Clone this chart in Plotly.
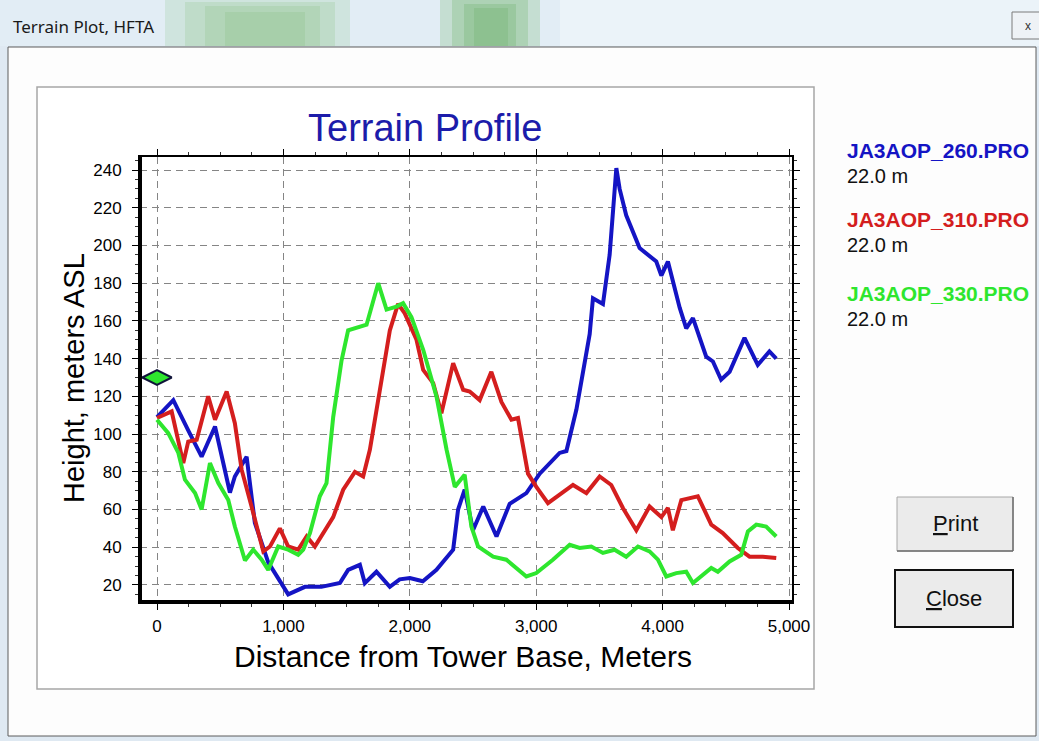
import plotly.graph_objects as go

# ---------------- data ----------------
dist_260 = [0, 129, 247, 353, 459, 577, 616, 709, 774, 880, 1038, 1170, 1300, 1380, 1447, 1512,
            1605, 1644, 1736, 1842, 1920, 2001, 2103, 2211, 2343, 2382, 2434, 2500, 2581, 2686,
            2790, 2922, 3028, 3185, 3239, 3318, 3423, 3449, 3528, 3581, 3634, 3660, 3712, 3818,
            3950, 3990, 4042, 4135, 4187, 4240, 4345, 4398, 4463, 4530, 4648, 4753, 4845, 4899]
height_260 = [109, 118, 102, 88, 104, 69, 77.5, 88, 53, 32, 15, 19, 19, 20, 21, 28,
              30.7, 21, 27, 19, 23, 23.7, 22, 28, 38.7, 60, 70.5, 49, 61.6, 45.7,
              63, 68.7, 79, 90, 91, 113, 153, 172, 169, 195, 241, 230, 216, 198.6,
              191.5, 184, 191.5, 167, 156, 161.5, 141, 138.5, 128.8, 133, 151, 136.7, 143.8, 140]

dist_310 = [0, 116, 208, 247, 314, 405, 459, 551, 616, 670, 748, 841, 894, 972, 1038, 1117,
            1184, 1249, 1394, 1473, 1566, 1631, 1684, 1763, 1842, 1907, 1960, 2053, 2106, 2185,
            2250, 2343, 2422, 2474, 2553, 2645, 2725, 2804, 2856, 2935, 3001, 3093, 3185, 3291,
            3397, 3502, 3594, 3686, 3792, 3897, 3990, 4042, 4081, 4148, 4279, 4385, 4476, 4595,
            4688, 4793, 4899]
height_310 = [108.5, 112, 84.6, 96, 97, 120, 107.6, 122.6, 105.8, 81, 61.6, 37.8, 40.4, 50, 40.4, 38.7,
              45.7, 40.4, 56, 70.5, 80, 77.5, 91.7, 125, 155, 169, 164, 150, 134, 127,
              111, 137.6, 123.5, 122.6, 118, 133, 117, 107.6, 108.5, 79, 72, 63.4, 67.8, 73,
              68.7, 77.5, 73, 60.8, 49, 61.6, 56, 60.8, 49, 65, 67, 52, 47.5, 39.6,
              35, 35, 34.3]

dist_330 = [0, 89, 169, 221, 301, 353, 419, 485, 564, 616, 696, 761, 828, 880, 959, 1038,
            1117, 1157, 1210, 1288, 1341, 1394, 1460, 1512, 1658, 1750, 1816, 1894, 1947, 2013,
            2106, 2211, 2291, 2356, 2434, 2487, 2540, 2659, 2764, 2922, 3001, 3132, 3265, 3344,
            3436, 3502, 3528, 3620, 3712, 3805, 3897, 3963, 4029, 4108, 4187, 4240, 4292, 4385,
            4437, 4530, 4622, 4675, 4741, 4819, 4899]
height_330 = [107.6, 100.5, 90, 75.8, 68.7, 60, 84.6, 74, 65, 51, 33, 38.7, 33.4, 28, 40.4, 38.7,
              36, 38.7, 47.5, 67, 74, 109, 139, 155, 158, 180, 166, 167.6, 169.4, 162,
              144.7, 120, 91.7, 72, 78.4, 51, 40.4, 35, 33.4, 24.5, 26.3, 33.4, 41.3, 39.6,
              40.4, 37.8, 37, 38.7, 35, 40.4, 37.8, 33.4, 24.5, 26.3, 27, 21, 23.7, 29,
              27, 32.5, 36, 48.4, 52, 51, 45.7]

series_names = ["JA3AOP_260.PRO", "JA3AOP_310.PRO", "JA3AOP_330.PRO"]
antenna_heights = [22.0, 22.0, 22.0]
series_colors = ["#1414c4", "#d41e1e", "#2ee62e"]

tower_dist = [0]
tower_height = [130]

chart_title = "Terrain Profile"
x_title = "Distance from Tower Base, Meters"
y_title = "Height, meters ASL"
window_title = "Terrain Plot, HFTA"

# ---------------- pixel helpers ----------------
W, H = 1039, 741
PL, PR, PT, PB = 140, 792, 157, 602


def px(x):
    return (x - PL) / (PR - PL)


def py(y):
    return (PB - y) / (PB - PT)


fig = go.Figure()

dists = [dist_260, dist_310, dist_330]
heights = [height_260, height_310, height_330]
for d, h, n, c in zip(dists, heights, series_names, series_colors):
    fig.add_trace(go.Scatter(x=d, y=h, mode="lines", name=n,
                             line=dict(color=c, width=4), hoverinfo="x+y+name"))

fig.add_trace(go.Scatter(x=tower_dist, y=tower_height, mode="markers", cliponaxis=False,
                         marker=dict(symbol="diamond-wide", size=21, color="#2ee62e",
                                     line=dict(color="#10143a", width=2)),
                         name="Tower"))

shapes = []


def rect(x0, y0, x1, y1, fill, line=None, lw=1, layer="below", opacity=1):
    shapes.append(dict(type="rect", xref="paper", yref="paper",
                       x0=px(x0), x1=px(x1), y0=py(y1), y1=py(y0),
                       fillcolor=fill, opacity=opacity,
                       line=dict(color=line if line else "rgba(0,0,0,0)", width=lw if line else 0),
                       layer=layer))


def hline(x0, x1, y, color, lw, layer="above"):
    shapes.append(dict(type="line", xref="paper", yref="paper",
                       x0=px(x0), x1=px(x1), y0=py(y), y1=py(y),
                       line=dict(color=color, width=lw), layer=layer))


def vline(x, y0, y1, color, lw, layer="above"):
    shapes.append(dict(type="line", xref="paper", yref="paper",
                       x0=px(x), x1=px(x), y0=py(y0), y1=py(y1),
                       line=dict(color=color, width=lw), layer=layer))


# window title-bar background (desktop seen through glass, soft blobs)
rect(0, 0, 1039, 46, "#e2edf5")
rect(560, 0, 1039, 46, "#edf4fa", opacity=0.8)
for (a, b, t, op) in [(165, 350, 0, 0.22), (185, 335, 2, 0.25), (205, 320, 6, 0.28), (225, 305, 12, 0.3)]:
    rect(a, t, b, 46, "#8fc48b", opacity=op)
for (a, b, t, op) in [(440, 540, 0, 0.25), (452, 528, 0, 0.28), (464, 516, 4, 0.3), (474, 508, 8, 0.3)]:
    rect(a, t, b, 46, "#6fb36c", opacity=op)
# client area
rect(8, 47, 1036, 736, "#fdfdfd", line="#5c5c5c", lw=1)
# inner chart panel
rect(37, 87, 814, 689, "#ffffff", line="#a6a6a6", lw=1.5)
# thick left / bottom axes
vline(140, 155, 604, "black", 4)
hline(138, 794, 602, "black", 4)

# close glyph box (title bar)
rect(1012, 12, 1045, 39, "#eef2f6", line="#7a7a7a", lw=1, layer="above")

# buttons
rect(897, 497, 1013, 551, "#ebebeb", line="#a8a8a8", lw=1, layer="above")
hline(897, 1013, 551, "#6e6e6e", 1.5)
vline(1013, 497, 551, "#6e6e6e", 1.5)
rect(895, 570, 1013, 627, "#ebebeb", line="#111111", lw=2, layer="above")

annotations = []


def text(x, y, s, size, color="black", family="Liberation Sans", xanchor="center",
         angle=0, bold=False):
    annotations.append(dict(xref="paper", yref="paper", x=px(x), y=py(y), text=s,
                            showarrow=False, xanchor=xanchor, yanchor="middle",
                            textangle=angle,
                            font=dict(size=size, color=color, family=family,
                                      weight="bold" if bold else "normal")))


text(11, 27, window_title, 17, family="Noto Sans", xanchor="left", color="#1a1a1a")
text(1028, 26, "x", 12, color="#333333")
text(425, 128, chart_title, 38, color="#1c1caa")
text(463, 656, x_title, 30)
text(74, 378, y_title, 29, angle=-90)

legend_y = [150, 219, 293]
for yy, n, h, c in zip(legend_y, series_names, antenna_heights, series_colors):
    text(845, yy, n, 21, color=c, xanchor="left", bold=True)
    text(845, yy + 26, f"{h:.1f} m", 20, color="#111111", xanchor="left")

text(955, 523, "<u>P</u>rint", 22, color="#111111")
text(954, 598, "<u>C</u>lose", 22, color="#111111")

tick_font = dict(family="Liberation Sans", size=17, color="black")

fig.update_layout(
    width=W, height=H,
    margin=dict(l=PL, r=W - PR, t=PT, b=H - PB, pad=0),
    paper_bgcolor="#dfe9f2",
    plot_bgcolor="white",
    showlegend=False,
    shapes=shapes,
    annotations=annotations,
    xaxis=dict(range=[-134.5, 5023.7], tick0=0, dtick=1000, tickformat=",d",
               ticks="outside", ticklen=6, tickwidth=1, tickcolor="black",
               showgrid=True, gridcolor="#858585", gridwidth=1.2, griddash="7px,5px",
               showline=True, linecolor="black", linewidth=2, mirror="ticks",
               zeroline=False, tickfont=tick_font, ticklabelstandoff=2,
               minor=dict(dtick=250, tick0=0, ticks="outside", ticklen=3,
                          tickcolor="#333333", showgrid=False)),
    yaxis=dict(range=[10.97, 246.9], tick0=0, dtick=20,
               ticks="outside", ticklen=6, tickwidth=1, tickcolor="black",
               showgrid=True, gridcolor="#858585", gridwidth=1.2, griddash="7px,5px",
               showline=True, linecolor="black", linewidth=2, mirror="ticks",
               zeroline=False, tickfont=tick_font, ticklabelstandoff=7,
               minor=dict(dtick=5, tick0=0, ticks="outside", ticklen=3,
                          tickcolor="#333333", showgrid=False)),
)

fig.write_html("out.html", config={"displayModeBar": False},
               post_script="document.body.style.margin='0';")
